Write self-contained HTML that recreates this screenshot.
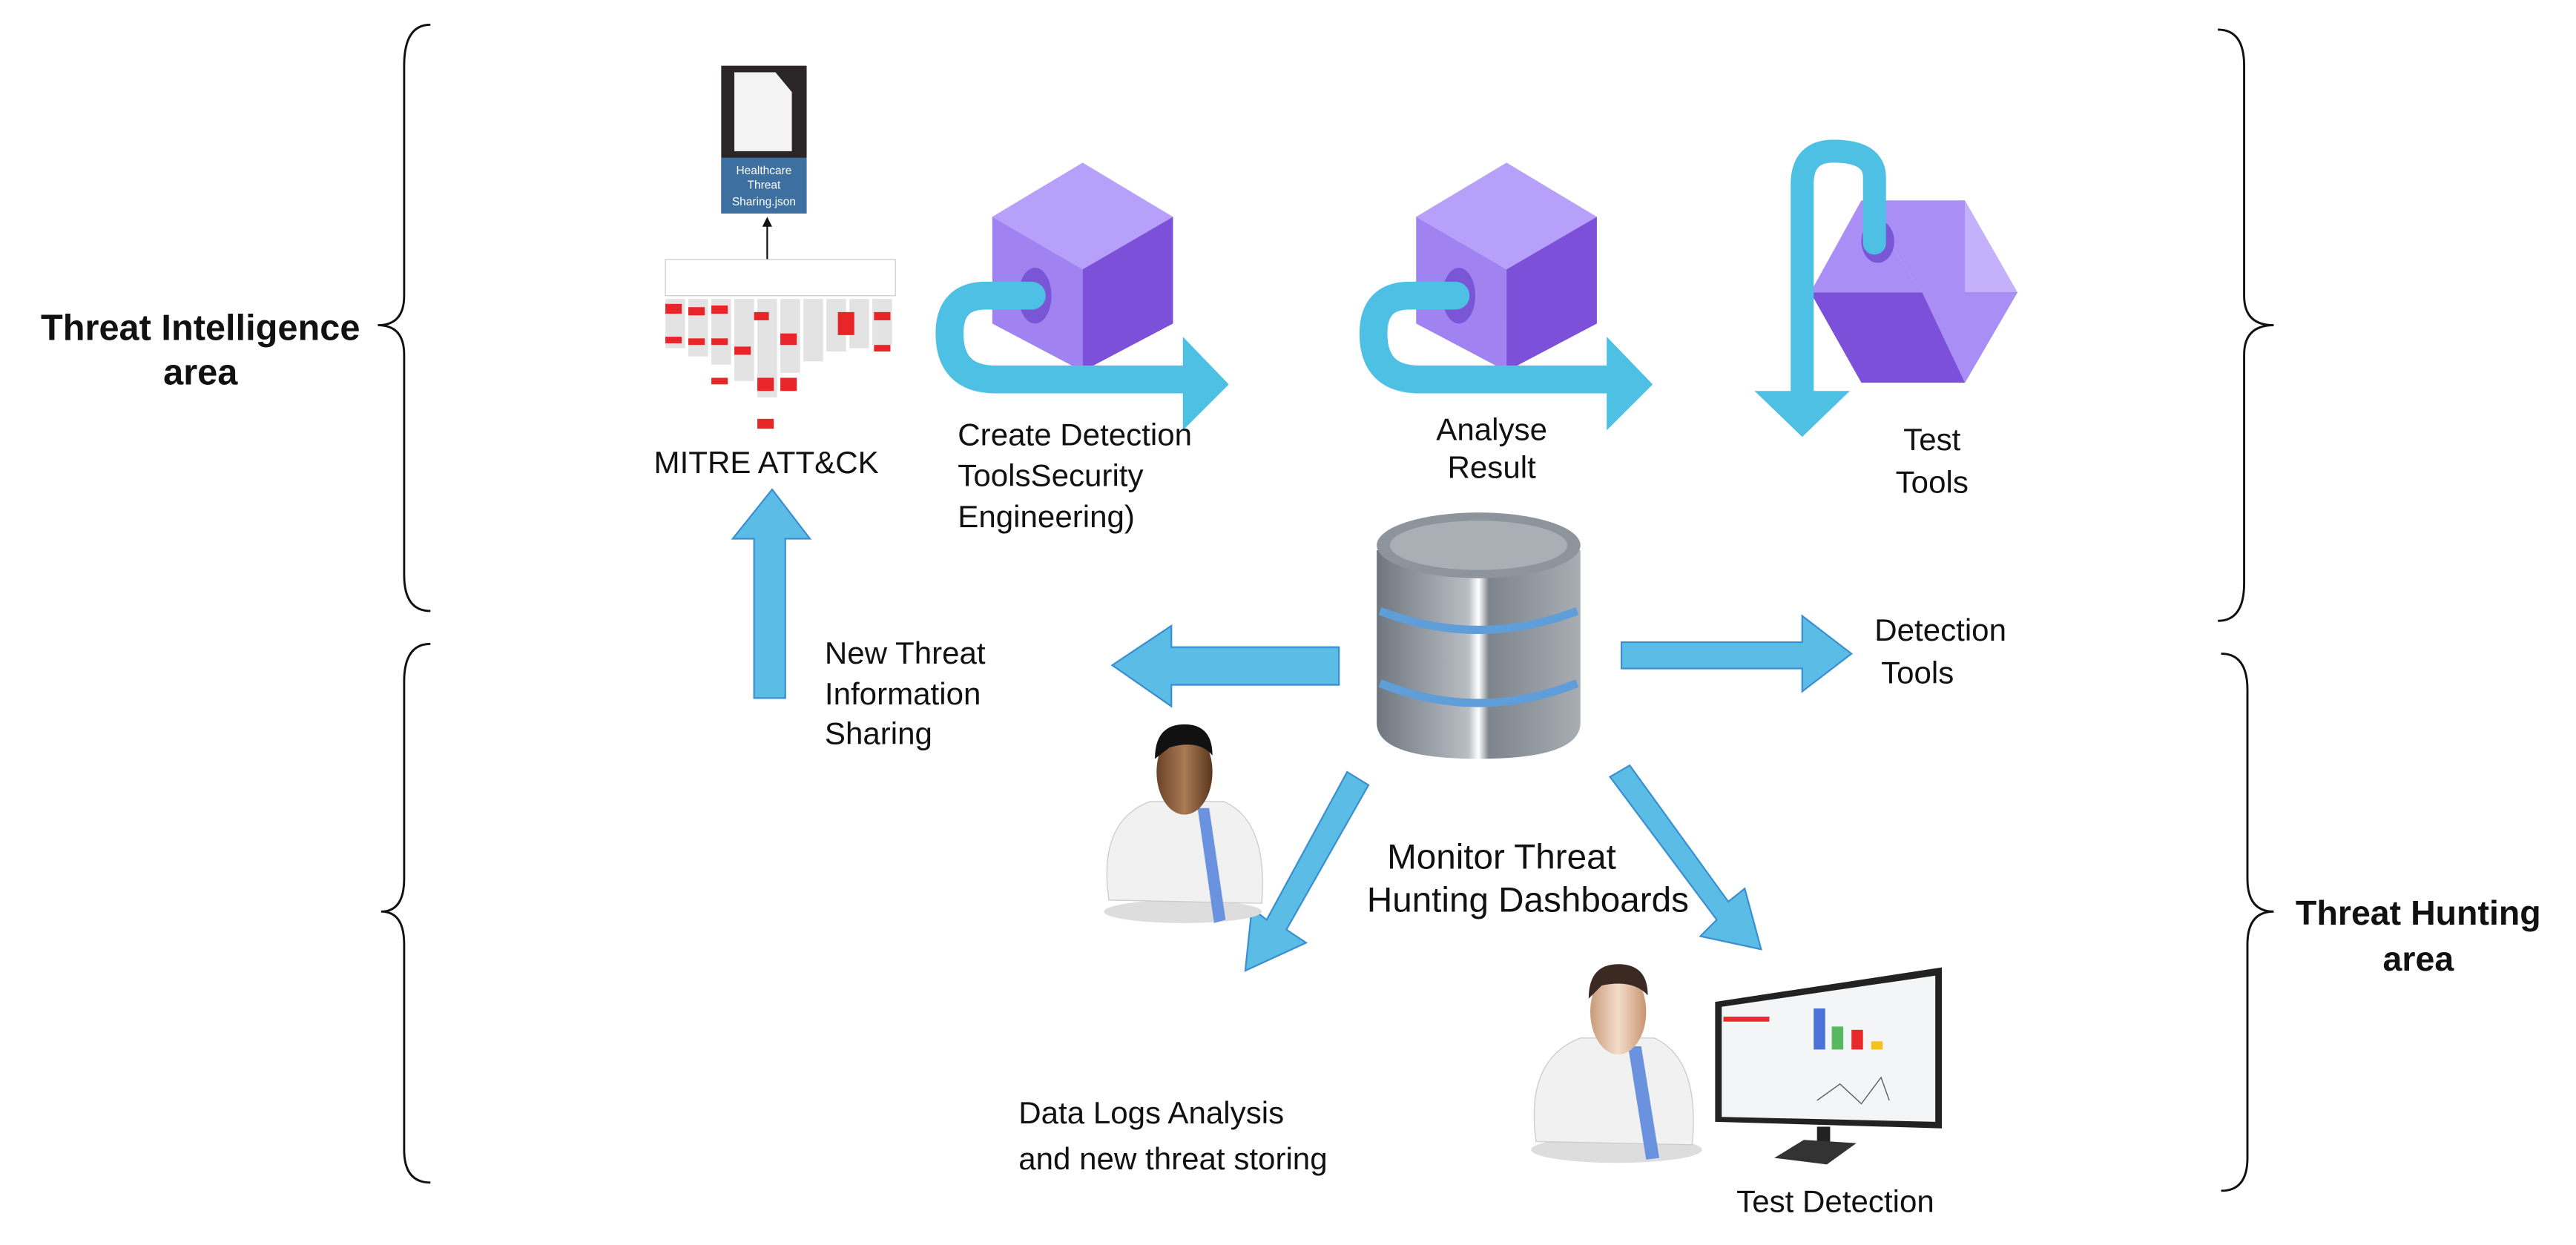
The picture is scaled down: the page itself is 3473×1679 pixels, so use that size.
<!DOCTYPE html>
<html><head><meta charset="utf-8"><style>
html,body{margin:0;padding:0;background:#fff;}
svg{display:block;}
text{font-family:"Liberation Sans",sans-serif;fill:#111;}
</style></head><body>
<svg width="3473" height="1679" viewBox="0 0 1568 758" xmlns="http://www.w3.org/2000/svg">
<defs>
<linearGradient id="db" x1="0" x2="1"><stop offset="0" stop-color="#6f767e"/><stop offset="0.45" stop-color="#b9bec4"/><stop offset="0.5" stop-color="#fff"/><stop offset="0.55" stop-color="#7d848c"/><stop offset="1" stop-color="#a9aeb4"/></linearGradient>
<linearGradient id="skin" x1="0" x2="1"><stop offset="0" stop-color="#6b4326"/><stop offset="0.5" stop-color="#a87a55"/><stop offset="1" stop-color="#5a361d"/></linearGradient>
<linearGradient id="skin2" x1="0" x2="1"><stop offset="0" stop-color="#c99b7a"/><stop offset="0.5" stop-color="#f3dccb"/><stop offset="1" stop-color="#c89572"/></linearGradient>
</defs>
<g fill="none" stroke="#111" stroke-width="1.3">
<path d="M262,15 Q246,15 246,40 L246,180 Q246,198 230,198 Q246,198 246,216 L246,350 Q246,372 262,372"/>
<path d="M262,392 Q246,392 246,415 L246,535 Q246,555 232,555 Q246,555 246,575 L246,700 Q246,720 262,720"/>
<path d="M1350,18 Q1366,18 1366,40 L1366,180 Q1366,198 1384,198 Q1366,198 1366,216 L1366,355 Q1366,378 1350,378"/>
<path d="M1352,398 Q1368,398 1368,420 L1368,535 Q1368,555 1384,555 Q1368,555 1368,575 L1368,705 Q1368,725 1352,725"/>
</g>
<text x="122" y="207" font-size="22" font-weight="bold" text-anchor="middle">Threat Intelligence</text>
<text x="122" y="234" font-size="22" font-weight="bold" text-anchor="middle">area</text>
<text x="1472" y="563" font-size="21" font-weight="bold" text-anchor="middle">Threat Hunting</text>
<text x="1472" y="591" font-size="21" font-weight="bold" text-anchor="middle">area</text>
<rect x="439" y="40" width="52" height="90" fill="#2a2628"/>
<path d="M447,44 L472,44 L482,56 L482,92 L447,92 Z" fill="#f3f3f3"/>
<rect x="439" y="96" width="52" height="34" fill="#3d6fa0"/>
<text x="465" y="106" font-size="7" text-anchor="middle" style="fill:#fff">Healthcare</text>
<text x="465" y="115" font-size="7" text-anchor="middle" style="fill:#fff">Threat</text>
<text x="465" y="125" font-size="7" text-anchor="middle" style="fill:#fff">Sharing.json</text>
<line x1="467" y1="160" x2="467" y2="136" stroke="#111" stroke-width="1"/>
<path d="M464,138 L467,132 L470,138 Z" fill="#111"/>
<g>
<rect x="405" y="158" width="140" height="22" fill="#fff" stroke="#ccc" stroke-width="0.6"/>
<g fill="#e3e3e3">
<rect x="405" y="182" width="12" height="30"/><rect x="419" y="182" width="12" height="35"/><rect x="433" y="182" width="12" height="40"/>
<rect x="447" y="182" width="12" height="50"/><rect x="461" y="182" width="12" height="60"/><rect x="475" y="182" width="12" height="45"/>
<rect x="489" y="182" width="12" height="38"/><rect x="503" y="182" width="12" height="32"/><rect x="517" y="182" width="12" height="30"/><rect x="531" y="182" width="12" height="28"/>
</g>
<g fill="#e8262a">
<rect x="405" y="185" width="10" height="6"/><rect x="419" y="187" width="10" height="5"/><rect x="433" y="186" width="10" height="5"/><rect x="405" y="205" width="10" height="4"/>
<rect x="419" y="206" width="10" height="4"/><rect x="433" y="206" width="10" height="4"/><rect x="447" y="211" width="10" height="5"/><rect x="459" y="190" width="9" height="5"/>
<rect x="461" y="230" width="10" height="8"/><rect x="475" y="203" width="10" height="7"/><rect x="475" y="230" width="10" height="8"/><rect x="510" y="190" width="10" height="14"/><rect x="532" y="190" width="10" height="5"/><rect x="532" y="210" width="10" height="4"/><rect x="433" y="230" width="10" height="4"/><rect x="461" y="255" width="10" height="6"/>
</g>
</g>
<text x="398" y="288" font-size="19">MITRE ATT&amp;CK</text>
<path d="M459,425 L459,328 L446,328 L470,298 L493,328 L478,328 L478,425 Z" fill="#5bbde6" stroke="#3a8fd0" stroke-width="1"/>
<g>
<path d="M659,99 L714,132 L659,164 L604,132 Z" fill="#b7a0fa"/>
<path d="M604,132 L659,164 L659,226 L604,197 Z" fill="#a083f0"/>
<path d="M659,164 L714,132 L714,197 L659,226 Z" fill="#7c50d9"/>
<ellipse cx="630" cy="180" rx="10" ry="17" fill="#7a55d6"/>
<path d="M628,180 L600,180 Q578,180 578,203 Q578,231 606,231 L722,231" fill="none" stroke="#4ec0e3" stroke-width="17" stroke-linecap="round"/>
<path d="M720,205 L748,234 L720,262 Z" fill="#4ec0e3"/>
</g>
<g transform="translate(258,0)">
<path d="M659,99 L714,132 L659,164 L604,132 Z" fill="#b7a0fa"/>
<path d="M604,132 L659,164 L659,226 L604,197 Z" fill="#a083f0"/>
<path d="M659,164 L714,132 L714,197 L659,226 Z" fill="#7c50d9"/>
<ellipse cx="630" cy="180" rx="10" ry="17" fill="#7a55d6"/>
<path d="M628,180 L600,180 Q578,180 578,203 Q578,231 606,231 L722,231" fill="none" stroke="#4ec0e3" stroke-width="17" stroke-linecap="round"/>
<path d="M720,205 L748,234 L720,262 Z" fill="#4ec0e3"/>
</g>
<g>
<path d="M1133,122 L1196,122 L1228,178 L1170,178 Z" fill="#a98ef5"/>
<path d="M1196,122 L1228,178 L1196,233 Z" fill="#c4b0fb"/>
<path d="M1133,122 L1170,178 L1102,178 Z" fill="#a98ef5"/>
<path d="M1102,178 L1228,178 L1196,233 L1133,233 Z" fill="#7c50d9"/>
<path d="M1170,178 L1228,178 L1196,233 Z" fill="#a98ef5"/>
<ellipse cx="1143" cy="147" rx="10" ry="13" fill="#7a55d6"/>
<path d="M1141,148 L1141,108 Q1141,92 1116,92 Q1097,92 1097,112 L1097,242" fill="none" stroke="#4ec0e3" stroke-width="14" stroke-linecap="round"/>
<path d="M1068,238 L1126,238 L1097,266 Z" fill="#4ec0e3"/>
</g>
<g font-size="19">
<text x="583" y="271">Create Detection</text>
<text x="583" y="296">ToolsSecurity</text>
<text x="583" y="321">Engineering)</text>
<text x="908" y="268" text-anchor="middle">Analyse</text>
<text x="908" y="291" text-anchor="middle">Result</text>
<text x="1176" y="274" text-anchor="middle">Test</text>
<text x="1176" y="300" text-anchor="middle">Tools</text>
<text x="1141" y="390">Detection</text>
<text x="1145" y="416">Tools</text>
<text x="502" y="404">New Threat</text>
<text x="502" y="429">Information</text>
<text x="502" y="453">Sharing</text>
<text x="620" y="684">Data Logs Analysis</text>
<text x="620" y="712">and new threat storing</text>
<text x="1057" y="738">Test Detection</text>
</g>
<text x="914" y="529" font-size="21.5" text-anchor="middle">Monitor Threat</text>
<text x="930" y="555" font-size="21.5" text-anchor="middle">Hunting Dashboards</text>
<g>
<path d="M838,335 L838,440 Q838,462 900,462 Q962,462 962,440 L962,335 Z" fill="url(#db)"/>
<ellipse cx="900" cy="332" rx="62" ry="20" fill="#8d949b"/>
<ellipse cx="900" cy="332" rx="54" ry="15" fill="#a9afb5"/>
<path d="M840,372 Q900,395 960,372" fill="none" stroke="#5f9ed8" stroke-width="5"/>
<path d="M840,416 Q900,440 960,416" fill="none" stroke="#5f9ed8" stroke-width="5"/>
</g>
<path d="M815,394 L713,394 L713,381 L677,405 L713,430 L713,417 L815,417 Z" fill="#5bbde6" stroke="#3a8fd0" stroke-width="1"/>
<path d="M987,391 L1097,391 L1097,375 L1127,398 L1097,421 L1097,407 L987,407 Z" fill="#5bbde6" stroke="#3a8fd0" stroke-width="1"/>
<path d="M820,470 L833,478 L783,566 L795,574 L758,591 L762,553 L771,560 Z" fill="#5bbde6" stroke="#3a8fd0" stroke-width="1"/>
<path d="M980,473 L992,466 L1052,549 L1062,541 L1072,578 L1035,570 L1045,560 Z" fill="#5bbde6" stroke="#3a8fd0" stroke-width="1"/>
<g>
<ellipse cx="720" cy="555" rx="48" ry="7" fill="#ddd"/>
<path d="M675,548 Q668,500 700,488 L745,488 Q772,500 768,550 Z" fill="#f1f1f1" stroke="#ccc" stroke-width="0.6"/>
<path d="M729,492 L736,492 L746,560 L739,562 Z" fill="#6a92de"/>
<ellipse cx="721" cy="470" rx="17" ry="26" fill="url(#skin)"/>
<path d="M703,462 Q703,441 721,441 Q738,441 738,460 Q730,450 712,455 Z" fill="#111"/>
</g>
<g>
<ellipse cx="984" cy="700" rx="52" ry="8" fill="#ddd"/>
<path d="M935,695 Q928,645 962,632 L1007,632 Q1035,645 1030,697 Z" fill="#f1f1f1" stroke="#ccc" stroke-width="0.6"/>
<path d="M991,637 L999,637 L1010,705 L1002,706 Z" fill="#6a92de"/>
<ellipse cx="985" cy="616" rx="17" ry="26" fill="url(#skin2)"/>
<path d="M967,608 Q967,587 985,587 Q1003,587 1003,606 Q994,596 975,600 Z" fill="#3a2a22"/>
</g>
<g>
<path d="M1044,610 L1182,589 L1182,687 L1044,683 Z" fill="#222"/>
<path d="M1048,613 L1178,594 L1178,683 L1048,680 Z" fill="#f4f5f7"/>
<rect x="1049" y="619" width="28" height="3" fill="#e82a2a"/>
<rect x="1104" y="614" width="7" height="25" fill="#4a72d8"/>
<rect x="1115" y="625" width="7" height="14" fill="#58b860"/>
<rect x="1127" y="627" width="7" height="12" fill="#e82a2a"/>
<rect x="1139" y="634" width="7" height="5" fill="#f5c21b"/>
<polyline points="1106,670 1120,660 1133,672 1145,656 1150,670" fill="none" stroke="#555" stroke-width="0.6"/>
<rect x="1106" y="686" width="8" height="10" fill="#222"/>
<path d="M1080,705 L1098,694 L1130,696 L1112,709 Z" fill="#333"/>
</g>
</svg>
</body></html>
